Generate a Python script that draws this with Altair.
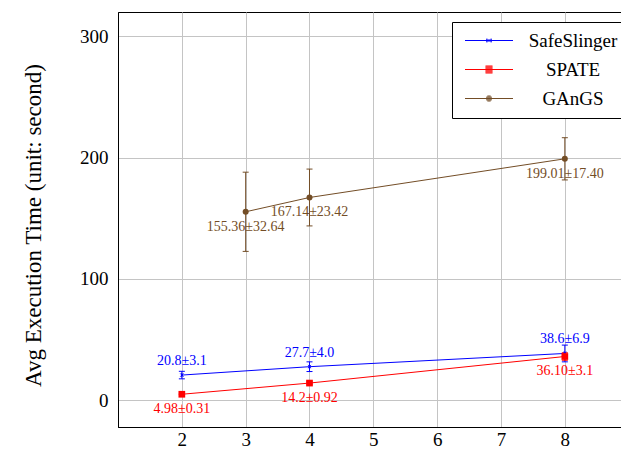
import altair as alt
import pandas as pd

series = ["SafeSlinger", "SPATE", "GAnGS"]
colors = ["#0000FF", "#FF0000", "#734D26"]

safe_x = [2, 4, 8]
safe_mean = [20.8, 27.7, 38.6]
safe_err = [3.1, 4.0, 6.9]
safe_text = ["20.8±3.1", "27.7±4.0", "38.6±6.9"]

spate_x = [2, 4, 8]
spate_mean = [4.98, 14.2, 36.10]
spate_err = [0.31, 0.92, 3.1]
spate_text = ["4.98±0.31", "14.2±0.92", "36.10±3.1"]

gangs_x = [3, 4, 8]
gangs_mean = [155.36, 167.14, 199.01]
gangs_err = [32.64, 23.42, 17.40]
gangs_text = ["155.36±32.64", "167.14±23.42", "199.01±17.40"]

x_ticks = [2, 3, 4, 5, 6, 7, 8]
y_ticks = [0, 100, 200, 300]

rows = []
for name, xs, ms, es, ts in [
    ("SafeSlinger", safe_x, safe_mean, safe_err, safe_text),
    ("SPATE", spate_x, spate_mean, spate_err, spate_text),
    ("GAnGS", gangs_x, gangs_mean, gangs_err, gangs_text),
]:
    for x, m, e, t in zip(xs, ms, es, ts):
        rows.append({"series": name, "x": x, "mean": m, "lo": m - e, "hi": m + e, "label": t})
df = pd.DataFrame(rows)

FONT = "Liberation Serif"
LFONT = "Times New Roman"

xscale = alt.Scale(domain=[1, 8.88], nice=False, zero=False)
yscale = alt.Scale(domain=[-22, 320], nice=False, zero=False)
cscale = alt.Scale(domain=series, range=colors)

xenc = alt.X("x:Q", scale=xscale, axis=alt.Axis(
    values=x_ticks, title=None, grid=True, ticks=False, labelFontSize=19,
    labelPadding=3, labelFont=FONT, labelColor="black", domainColor="black",
    gridColor="#c4c4c4", labelFlush=False))
yenc = alt.Y("mean:Q", scale=yscale, axis=alt.Axis(
    values=y_ticks, title="Avg Execution Time (unit: second)", grid=True, ticks=False,
    labelFontSize=19, labelPadding=10, labelFont=FONT, labelColor="black",
    domainColor="black", gridColor="#c4c4c4", titleFont=FONT, titleFontSize=23,
    titleFontWeight="normal", titleColor="black", titleAngle=270,
    titleX=-85, titleY=213, titleAlign="center", titleBaseline="middle"))
cenc = alt.Color("series:N", scale=cscale, legend=None)

base = alt.Chart(df)

lines = base.mark_line(strokeWidth=1).encode(x=xenc, y=yenc, color=cenc, detail="series:N")

bars = base.mark_rule(strokeWidth=1).encode(
    x=xenc, y=alt.Y("lo:Q", scale=yscale), y2="hi:Q", color=cenc)

caps = base.transform_fold(["lo", "hi"], as_=["end", "val"]).mark_tick(
    orient="horizontal", size=6, thickness=1, opacity=1).encode(
    x=xenc, y=alt.Y("val:Q", scale=yscale), color=cenc)

marker_paths = {
    "SafeSlinger": "M-1,-1L1,1M-1,1L1,-1M0,-1.3L0,1.3",
    "SPATE": "square",
    "GAnGS": "circle",
}
marker_sizes = {"SafeSlinger": 10, "SPATE": 45, "GAnGS": 36}
points = []
for s in series:
    points.append(
        base.transform_filter(alt.datum.series == s).mark_point(
            shape=marker_paths[s], size=marker_sizes[s], filled=(s != "SafeSlinger"),
            opacity=1, strokeWidth=1).encode(x=xenc, y=yenc, color=cenc))

text_above = base.transform_filter(alt.datum.series == "SafeSlinger").mark_text(
    dy=-14, fontSize=14, font=FONT).encode(x=xenc, y=yenc, text="label:N", color=cenc)
text_below = base.transform_filter(alt.datum.series != "SafeSlinger").mark_text(
    dy=15, fontSize=14, font=FONT).encode(x=xenc, y=yenc, text="label:N", color=cenc)

# legend symbols: stroke-only paths (unit = 5px at symbolSize 100)
L0, L1, CX = -1.1, 8.5, 3.7


def f(v):
    return f"{v:.3f}"


line_part = f"M{f(L0)},0L{f(L1)},0"
safe_sym = (line_part
            + f"M{f(CX-0.35)},-0.35L{f(CX+0.35)},0.35M{f(CX-0.35)},0.35L{f(CX+0.35)},-0.35"
            + f"M{f(CX-0.45)},-0.35L{f(CX-0.45)},0.35M{f(CX+0.45)},-0.35L{f(CX+0.45)},0.35")
sq = line_part
yy = -0.7
while yy <= 0.71:
    sq += f"M{f(CX-0.7)},{f(yy)}L{f(CX+0.7)},{f(yy)}"
    yy += 0.2
circ = line_part
for yy, hw in [(-0.5, 0.33), (-0.3, 0.52), (-0.1, 0.59), (0.1, 0.59), (0.3, 0.52), (0.5, 0.33)]:
    circ += f"M{f(CX-hw)},{f(yy)}L{f(CX+hw)},{f(yy)}"
legend_paths = [safe_sym, sq, circ]

leg = alt.Legend(title=None, orient="none", legendX=334, legendY=10, padding=9,
                 strokeColor="black", fillColor="white", symbolSize=100,
                 symbolStrokeWidth=1, labelFont=LFONT, labelFontWeight="normal",
                 labelFontSize=19, labelColor="black", labelAlign="center",
                 labelOffset=93, rowPadding=9, labelLimit=200)

legend_df = pd.DataFrame({"series": series, "x": [1.5, 1.5, 1.5], "mean": [-1000, -1000, -1000]})
legend_layer = alt.Chart(legend_df).mark_point(
    filled=False, opacity=1, strokeWidth=1, clip=True).encode(
    x=xenc, y=yenc,
    color=alt.Color("series:N", scale=cscale, legend=leg),
    shape=alt.Shape("series:N", scale=alt.Scale(domain=series, range=legend_paths), legend=leg),
)

chart = alt.layer(legend_layer, lines, bars, caps, *points, text_above, text_below).properties(
    width=503, height=415,
    autosize=alt.AutoSizeParams(type="none"),
    padding={"left": 110, "top": 4, "right": 0, "bottom": 25},
).configure(
    font=FONT,
    style={"guide-label": {"font": FONT}, "guide-title": {"font": FONT}},
).configure_view(stroke="black", strokeWidth=1).configure_legend(
    labelFont=LFONT, labelFontSize=19, labelColor="black")

chart.save("out.html", embed_options={"renderer": "svg", "actions": False})
